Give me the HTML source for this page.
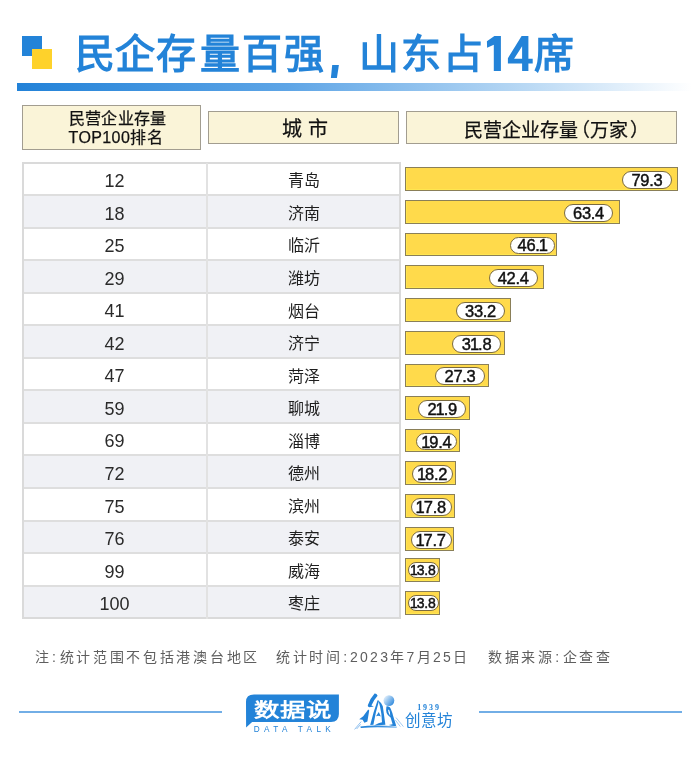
<!DOCTYPE html><html lang="zh-CN"><head><meta charset="utf-8"><style>
*{margin:0;padding:0;box-sizing:border-box}
html,body{width:700px;height:760px;background:#fff;overflow:hidden}
body{position:relative;will-change:transform;font-family:"Liberation Sans",sans-serif;color:#1a1a1a}
.a{position:absolute}
.sq1{left:22px;top:36px;width:20px;height:20px;background:#2383d8}
.sq2{left:32px;top:49.2px;width:20px;height:20px;background:#fed22b}
.title{left:75px;top:29px;font-size:40px;font-weight:bold;color:#2383d8;white-space:nowrap;line-height:50px;letter-spacing:1.8px}
.gbar{left:17px;top:83px;width:675px;height:7.5px;background:linear-gradient(to right,#2282d8 0%,#5ea5e6 40%,#b8d8f4 75%,#ffffff 100%)}
.hc{background:#faf4d8;border:1px solid #a29d90;white-space:nowrap;color:#111;-webkit-text-stroke:0.25px #111}
.tbl{left:22px;top:162px;width:379px;height:457px;border:2px solid #dadada}
.row{left:22px;width:378px;height:32.55px}
.g{background:#f0f1f5}
.hl{left:22px;width:378px;height:2px;background:#dedede}
.vl{left:206px;top:162.5px;width:2px;height:456px;background:#e2e2e2}
.rank{left:22px;width:185px;text-align:center;font-size:18px;line-height:32.55px;color:#2a2a2a}
.city{left:207px;width:193px;text-align:center;font-size:16px;line-height:32.55px;color:#1e1e1e}
.bar{left:405px;height:23.5px;background:#ffda4b;border:1px solid #8a7f58;box-shadow:inset 1px -1px 0 #ffe650}
.pill{border:1px solid #7a6a3e;border-radius:9px;background:#fff}
.pt{text-align:center;color:#111;white-space:nowrap;-webkit-text-stroke:0.45px #111;letter-spacing:-0.3px;text-indent:-0.3px;height:20px;line-height:20px}
.n1{letter-spacing:-1px;margin-left:-0.8px}
.ft{top:645.4px;font-size:14px;color:#5e5e5e;white-space:nowrap;letter-spacing:2.7px;line-height:24px}
.ln{top:711px;height:2px;background:#72aee6}
</style></head><body><div class="a sq1"></div><div class="a sq2"></div>
<div class="a title"><span style="margin-right:-2px">民</span><span style="margin-right:-0.3px">企</span><span style="margin-right:2.3px">存</span>量百强<span style="display:inline-block;width:33.3px"></span>山东占<span style="display:inline-block;width:49.5px"></span>席</div>
<div class="a gbar"></div>
<svg class="a" style="left:320px;top:30px" width="220" height="50" viewBox="320 30 220 50"><path fill="#2383d8" d="M332.2 65 L338.9 65 L336.9 78.1 L330.9 78.1 Z"/><path fill="#2383d8" d="M494.4 35.9 L500.9 35.9 L500.9 70.9 L493.8 70.9 L493.8 44.8 L487.1 47.7 L486.9 41.2 Z M521.6 35.9 L528.4 35.9 L528.4 58.7 L532.7 58.7 L532.7 63.4 L528.4 63.4 L528.4 70.9 L522.1 70.9 L522.1 63.4 L507.9 63.4 L507.9 58.2 Z M522.1 46.3 L522.1 58.7 L514.1 58.7 Z" fill-rule="evenodd"/></svg>
<div class="a hc" style="left:22px;top:105.2px;width:178.5px;height:44.5px;font-size:16px;line-height:18.5px;padding-top:4px;padding-left:45.5px;letter-spacing:0.4px">民营企业存量<br>TOP100排名</div>
<div class="a hc" style="left:208.2px;top:111px;width:190.8px;height:32.5px;font-size:20px;line-height:34px;text-align:center;padding-left:3px">城 市</div>
<div class="a hc" style="left:406px;top:111px;width:270.5px;height:32.5px"></div><div class="a" style="left:463.5px;top:115.5px;font-size:19px;line-height:30px;color:#111;white-space:nowrap;-webkit-text-stroke:0.25px #111">民营企业存量<span style="margin-left:-7px">（</span>万家<span style="margin-left:2px">）</span></div>
<div class="a row g" style="top:195.05px"></div>
<div class="a row g" style="top:260.15px"></div>
<div class="a row g" style="top:325.25px"></div>
<div class="a row g" style="top:390.35px"></div>
<div class="a row g" style="top:455.45px"></div>
<div class="a row g" style="top:520.55px"></div>
<div class="a row g" style="top:585.65px"></div>
<div class="a hl" style="top:194.05px"></div>
<div class="a hl" style="top:226.60px"></div>
<div class="a hl" style="top:259.15px"></div>
<div class="a hl" style="top:291.70px"></div>
<div class="a hl" style="top:324.25px"></div>
<div class="a hl" style="top:356.80px"></div>
<div class="a hl" style="top:389.35px"></div>
<div class="a hl" style="top:421.90px"></div>
<div class="a hl" style="top:454.45px"></div>
<div class="a hl" style="top:487.00px"></div>
<div class="a hl" style="top:519.55px"></div>
<div class="a hl" style="top:552.10px"></div>
<div class="a hl" style="top:584.65px"></div>
<div class="a tbl"></div><div class="a vl"></div>
<div class="a rank" style="top:165.00px">12</div>
<div class="a city" style="top:165.30px">青岛</div>
<div class="a bar" style="top:167.20px;width:272.72px"></div>
<div class="a pill" style="left:622.40px;top:171.10px;width:49.40px;height:17.9px"></div>
<div class="a pt" style="left:622.40px;top:170.28px;width:49.40px;font-size:16.5px">79.3</div>
<div class="a rank" style="top:197.55px">18</div>
<div class="a city" style="top:197.85px">济南</div>
<div class="a bar" style="top:200.10px;width:215.05px"></div>
<div class="a pill" style="left:563.80px;top:204.00px;width:49.70px;height:17.9px"></div>
<div class="a pt" style="left:563.80px;top:203.28px;width:49.70px;font-size:16.5px">63.4</div>
<div class="a rank" style="top:230.10px">25</div>
<div class="a city" style="top:230.40px">临沂</div>
<div class="a bar" style="top:232.60px;width:152.30px"></div>
<div class="a pill" style="left:509.70px;top:236.50px;width:45.40px;height:17.9px"></div>
<div class="a pt" style="left:509.70px;top:235.28px;width:45.40px;font-size:16.5px">46.<span class="n1">1</span></div>
<div class="a rank" style="top:262.65px">29</div>
<div class="a city" style="top:262.95px">潍坊</div>
<div class="a bar" style="top:265.30px;width:138.88px"></div>
<div class="a pill" style="left:488.50px;top:269.20px;width:49.70px;height:17.9px"></div>
<div class="a pt" style="left:488.50px;top:268.28px;width:49.70px;font-size:16.5px">42.4</div>
<div class="a rank" style="top:295.20px">41</div>
<div class="a city" style="top:295.50px">烟台</div>
<div class="a bar" style="top:298.10px;width:105.52px"></div>
<div class="a pill" style="left:455.80px;top:302.00px;width:49.70px;height:17.9px"></div>
<div class="a pt" style="left:455.80px;top:301.28px;width:49.70px;font-size:16.5px">33.2</div>
<div class="a rank" style="top:327.75px">42</div>
<div class="a city" style="top:328.05px">济宁</div>
<div class="a bar" style="top:331.00px;width:100.44px"></div>
<div class="a pill" style="left:452.00px;top:334.90px;width:49.40px;height:17.9px"></div>
<div class="a pt" style="left:452.00px;top:334.28px;width:49.40px;font-size:16.5px">3<span class="n1">1</span>.8</div>
<div class="a rank" style="top:360.30px">47</div>
<div class="a city" style="top:360.60px">菏泽</div>
<div class="a bar" style="top:363.50px;width:84.12px"></div>
<div class="a pill" style="left:435.40px;top:367.40px;width:49.50px;height:17.9px"></div>
<div class="a pt" style="left:435.40px;top:366.28px;width:49.50px;font-size:16.5px">27.3</div>
<div class="a rank" style="top:392.85px">59</div>
<div class="a city" style="top:393.15px">聊城</div>
<div class="a bar" style="top:396.00px;width:64.53px"></div>
<div class="a pill" style="left:418.40px;top:399.90px;width:48.00px;height:17.9px"></div>
<div class="a pt" style="left:418.40px;top:399.28px;width:48.00px;font-size:16.5px">2<span class="n1">1</span>.9</div>
<div class="a rank" style="top:425.40px">69</div>
<div class="a city" style="top:425.70px">淄博</div>
<div class="a bar" style="top:428.70px;width:55.46px"></div>
<div class="a pill" style="left:416.40px;top:432.60px;width:40.80px;height:17.9px"></div>
<div class="a pt" style="left:416.40px;top:432.28px;width:40.80px;font-size:16.5px"><span class="n1">1</span>9.4</div>
<div class="a rank" style="top:457.95px">72</div>
<div class="a city" style="top:458.25px">德州</div>
<div class="a bar" style="top:461.40px;width:51.11px"></div>
<div class="a pill" style="left:411.80px;top:465.30px;width:41.50px;height:17.9px"></div>
<div class="a pt" style="left:411.80px;top:464.28px;width:41.50px;font-size:16.5px"><span class="n1">1</span>8.2</div>
<div class="a rank" style="top:490.50px">75</div>
<div class="a city" style="top:490.80px">滨州</div>
<div class="a bar" style="top:494.30px;width:49.66px"></div>
<div class="a pill" style="left:411.00px;top:498.20px;width:40.50px;height:17.9px"></div>
<div class="a pt" style="left:411.00px;top:497.28px;width:40.50px;font-size:16.5px"><span class="n1">1</span>7.8</div>
<div class="a rank" style="top:523.05px">76</div>
<div class="a city" style="top:523.35px">泰安</div>
<div class="a bar" style="top:527.00px;width:49.30px"></div>
<div class="a pill" style="left:410.50px;top:530.90px;width:41.10px;height:17.9px"></div>
<div class="a pt" style="left:410.50px;top:530.28px;width:41.10px;font-size:16.5px"><span class="n1">1</span>7.7</div>
<div class="a rank" style="top:555.60px">99</div>
<div class="a city" style="top:555.90px">威海</div>
<div class="a bar" style="top:558.20px;width:35.15px"></div>
<div class="a pill" style="left:407.60px;top:562.30px;width:31.40px;height:15.8px"></div>
<div class="a pt" style="left:407.60px;top:560.00px;width:31.40px;font-size:14px"><span class="n1">1</span>3.8</div>
<div class="a rank" style="top:588.15px">100</div>
<div class="a city" style="top:588.45px">枣庄</div>
<div class="a bar" style="top:591.20px;width:35.15px"></div>
<div class="a pill" style="left:407.60px;top:595.30px;width:31.40px;height:15.8px"></div>
<div class="a pt" style="left:407.60px;top:593.00px;width:31.40px;font-size:14px"><span class="n1">1</span>3.8</div>
<div class="a ft" style="left:34.5px">注<span style="margin-left:0.8px;margin-right:1px">:</span>统计范围不包括港澳台地区</div>
<div class="a ft" style="left:276px">统计时间<span style="margin-left:0.5px">:</span><span style="letter-spacing:2.3px">2023年7月25日</span></div>
<div class="a ft" style="left:488px">数据来源<span style="margin-left:0.5px;margin-right:0.8px">:</span>企查查</div>
<div class="a ln" style="left:19px;width:203px"></div><div class="a ln" style="left:479px;width:203px"></div>
<svg class="a" style="left:240px;top:688px" width="105" height="48" viewBox="0 0 105 48">
<path d="M6 14 Q6 6.6 14 6.6 L98.9 6.6 L98.9 26 Q98.9 33.9 91 33.9 L12.1 33.9 L6.1 39.6 Z" fill="#2383d8"/>
<g transform="translate(0,28.9) scale(1,0.77)"><text x="53" y="0" text-anchor="middle" font-family="Liberation Sans, sans-serif" font-size="25.5" font-weight="900" fill="#fff" letter-spacing="0.5">数据说</text></g>
<text x="13.8" y="43.8" font-family="Liberation Sans, sans-serif" font-size="8.2" fill="#2383d8" letter-spacing="4.35">DATA TALK</text>
</svg>
<svg class="a" style="left:345px;top:685px" width="115" height="55" viewBox="0 0 115 55">
<defs><linearGradient id="sun" x1="0" y1="0" x2="1" y2="0.8"><stop offset="0" stop-color="#ffffff"/><stop offset="0.45" stop-color="#9cc8f0"/><stop offset="1" stop-color="#2a86dc"/></linearGradient>
<linearGradient id="base" x1="0" y1="0" x2="1" y2="0"><stop offset="0" stop-color="#2282d8"/><stop offset="0.6" stop-color="#3a90de"/><stop offset="1" stop-color="#9ccaf2"/></linearGradient></defs>
<circle cx="43.9" cy="15.6" r="5.4" fill="url(#sun)"/>
<g fill="#2282d8">
<path d="M29.6 8.6 Q31.6 8.4 32.6 10.8 Q28.4 15.4 26.4 20.4 L28.8 21.4 L24.4 22.2 Q22.4 21.6 22.8 20.2 Q25.2 13.4 29.6 8.6 Z"/>
<path d="M23.2 24.4 L24.2 25.4 L22.4 36.4 L19.4 37.8 L17.6 34.8 L14.2 34.2 L18.2 31.2 Z"/>
<path d="M32.6 15.2 L34 15.8 Q30.6 27 28.4 39.8 L25.2 40 Q28.4 26.6 32.6 15.2 Z"/>
<path d="M33.4 15.6 Q36.2 17.6 37.8 21.2 L40.4 39.8 L29 40.4 Q34 37.6 37 37.2 Q36.6 28 35 21.6 Z"/>
<path d="M31 31.2 L33.8 27 L35.8 31.4 Q33.4 30 31 31.2 Z"/>
<path d="M41.4 21.4 Q44.8 21 46 24.4 Q47.6 28 48 30.6 L51.2 40.8 Q48 41.4 43.6 40 L47.6 39.2 L45.6 32.4 Q42.6 30.6 41.6 28 Q40.8 24.6 41.4 21.4 Z"/>
</g>
<path d="M43 24.4 Q44.6 24.6 45 27.4 L45.2 31 Q43.4 29 43 24.4 Z" fill="#fff"/>
<path d="M15.4 41.4 Q30 39.6 52 41.6 L51.6 43 Q32 41.6 15.8 43 Z" fill="url(#base)"/>
<path d="M9.6 44.4 L16.2 36.6 M11.6 44 L15.6 39.4" stroke="#5aa2e6" stroke-width="0.9" opacity="0.75"/>
<path d="M51 32.6 L58.4 41.6 M50.4 35.2 L55.4 41.6" stroke="#5aa2e6" stroke-width="0.8" opacity="0.7"/>
<text x="72.2" y="25" font-family="Liberation Serif, serif" font-size="8" font-weight="bold" fill="#2383d8" letter-spacing="1.9">1939</text>
<text x="59.5" y="40.8" font-family="Liberation Serif, serif" font-size="15.5" font-weight="300" fill="#2383d8" letter-spacing="0.2">创意坊</text>
</svg></body></html>
